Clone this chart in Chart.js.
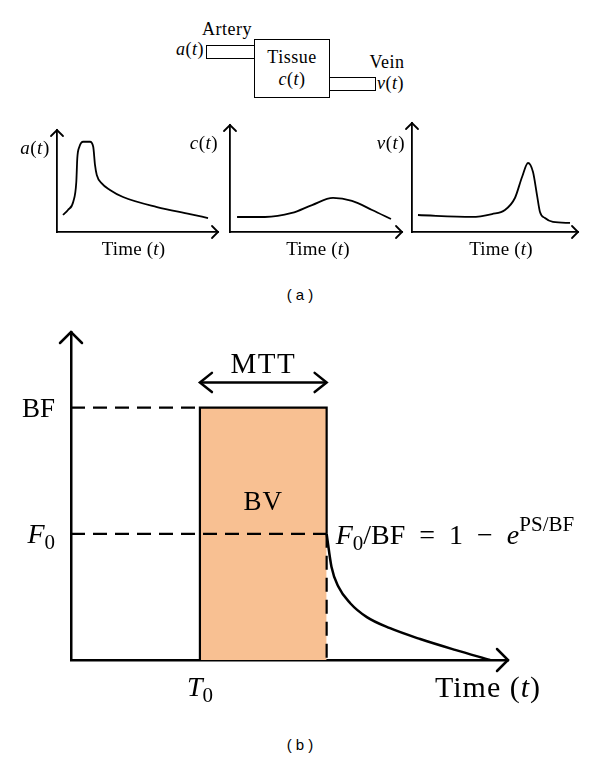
<!DOCTYPE html>
<html lang="en">
<head>
<meta charset="UTF-8">
<title>Tracer kinetics model</title>
<script src="https://cdn.jsdelivr.net/npm/chart.js"></script>
<style>
    body {
        margin: 0;
        width: 600px;
        height: 762px;
        position: relative;
        background: #fff;
        overflow: hidden;
        font-family: 'Liberation Serif', serif;
    }
    canvas { position: absolute; }
    .box {
        position: absolute;
        border: 1.5px solid #000;
        box-sizing: border-box;
        background: #fff;
    }
    .txt {
        position: absolute;
        font-size: 18px;
        letter-spacing: 0.5px;
        line-height: 1;
        white-space: nowrap;
    }
    .cap {
        position: absolute;
        left: 0;
        width: 600px;
        text-align: center;
        font-family: 'Liberation Sans', sans-serif;
        font-size: 15px;
        line-height: 1;
    }
</style>
</head>
<body>
    <!-- compartment sketch -->
    <div class="box" style="left:206px;top:45px;width:49px;height:14px"></div>
    <div class="box" style="left:329px;top:77px;width:47px;height:14px"></div>
    <div class="box" style="left:254px;top:39px;width:76px;height:59px"></div>
    <div class="txt" style="left:202px;top:20px">Artery</div>
    <div class="txt" style="left:156px;top:40px;width:48px;text-align:right"><i>a</i>(<i>t</i>)</div>
    <div class="txt" style="left:254px;top:48px;width:76px;text-align:center">Tissue</div>
    <div class="txt" style="left:254px;top:70px;width:76px;text-align:center"><i>c</i>(<i>t</i>)</div>
    <div class="txt" style="left:365px;top:53px;width:44px;text-align:center">Vein</div>
    <div class="txt" style="left:377px;top:74px"><i>v</i>(<i>t</i>)</div>

    <canvas id="artChart" width="215" height="150" style="left:10px;top:115px"></canvas>
    <canvas id="tisChart" width="225" height="150" style="left:180px;top:115px"></canvas>
    <canvas id="veinChart" width="230" height="150" style="left:370px;top:115px"></canvas>
    <div class="cap" style="top:287px">( a )</div>

    <canvas id="modelChart" width="600" height="400" style="left:0;top:320px"></canvas>
    <div class="cap" style="top:737px">( b )</div>

<script>
    // (a) concentration curves, arbitrary units on a 0..10 grid
    const artX  = [0.37, 0.68, 1.01, 1.20, 1.26, 1.39, 1.63, 2.05, 2.25, 2.36, 2.47, 2.78, 3.29, 4.10, 6.21, 8.26, 9.38];
    const artY  = [1.67, 2.16, 2.97, 4.93, 7.23, 8.36, 8.85, 8.85, 8.36, 6.57, 5.59, 4.77, 4.12, 3.43, 2.45, 1.76, 1.37];
    const tisX  = [0.41, 2.03, 3.60, 4.77, 5.99, 7.09, 8.26, 9.36];
    const tisY  = [1.40, 1.40, 1.78, 2.52, 3.18, 2.90, 2.06, 1.21];
    const veinX = [0.36, 3.61, 4.82, 5.60, 6.20, 6.63, 6.99, 7.29, 7.53, 7.71, 8.01, 8.49, 9.52];
    const veinY = [1.56, 1.38, 1.65, 2.02, 3.12, 5.05, 6.33, 5.50, 3.39, 1.83, 1.28, 0.92, 0.83];

    // (b) model values
    const T0 = 2.95, T1 = 5.85;       // bolus start / end (T1 - T0 = MTT)
    const BF = 1.0, F0 = 0.5;
    const mttLevel = 1.10;
    const boxX = [T0, T0, T1, T1];
    const boxY = [0, BF, BF, F0];
    const decayX = [5.85, 5.96, 6.12, 6.39, 6.77, 7.30, 7.99, 8.79, 9.59];
    const decayY = [0.50, 0.37, 0.29, 0.225, 0.17, 0.126, 0.083, 0.04, 0.0];

    const SERIF = "'Liberation Serif', 'DejaVu Serif', serif";
    const orange = 'rgb(248, 192, 146)';

    const pts = (xs, ys) => xs.map((x, i) => ({ x: x, y: ys[i] }));

    function drawRich(ctx, parts, x, y, size, align, ls) {
        const small = p => p[1] && (p[1].includes('sub') || p[1].includes('sup'));
        const fontOf = p => (p[1] && p[1].includes('i') ? 'italic ' : '') +
            Math.round(small(p) ? size * 0.74 : size) + 'px ' + SERIF;
        ctx.letterSpacing = (ls || 0) + 'px';
        let w = 0;
        parts.forEach(p => { ctx.font = fontOf(p); w += ctx.measureText(p[0]).width; });
        let cx = align === 'center' ? x - w / 2 : align === 'right' ? x - w : x;
        ctx.textAlign = 'left';
        ctx.textBaseline = 'alphabetic';
        ctx.fillStyle = '#000';
        const base = y + size * 0.33;
        parts.forEach(p => {
            ctx.font = fontOf(p);
            let off = 0;
            if (p[1] && p[1].includes('sub')) off = size * 0.22;
            if (p[1] && p[1].includes('sup')) off = -size * 0.45;
            ctx.fillText(p[0], cx, base + off);
            cx += ctx.measureText(p[0]).width;
        });
        ctx.letterSpacing = '0px';
    }

    function chevron(ctx, x, y, dx, dy, len, half) {
        // open arrow head pointing along (dx, dy)
        const px = -dy, py = dx;
        ctx.beginPath();
        ctx.moveTo(x - dx * len + px * half, y - dy * len + py * half);
        ctx.lineTo(x, y);
        ctx.lineTo(x - dx * len - px * half, y - dy * len - py * half);
        ctx.stroke();
    }

    const annot = {
        id: 'annot',
        afterDraw(chart, args, opts) {
            const ctx = chart.ctx, a = chart.chartArea;
            const xs = chart.scales.x, ys = chart.scales.y;
            ctx.save();
            ctx.strokeStyle = '#000';
            ctx.lineWidth = opts.lw;
            ctx.lineCap = 'round';
            ctx.lineJoin = 'miter';
            chevron(ctx, a.left, a.top, 0, -1, opts.arrow, opts.arrow);
            chevron(ctx, a.right, a.bottom, 1, 0, opts.arrow, opts.arrow);
            (opts.doubleArrows || []).forEach(d => {
                const y = ys.getPixelForValue(d.y);
                chevron(ctx, xs.getPixelForValue(d.x0), y, -1, 0, d.len, d.len * 0.8);
                chevron(ctx, xs.getPixelForValue(d.x1), y, 1, 0, d.len, d.len * 0.8);
            });
            (opts.texts || []).forEach(t => {
                drawRich(ctx, t.parts,
                    xs.getPixelForValue(t.x) + (t.dx || 0),
                    ys.getPixelForValue(t.y) + (t.dy || 0),
                    t.size, t.align || 'center', t.ls);
            });
            ctx.restore();
        }
    };

    function axis(max, w) {
        return {
            type: 'linear', min: 0, max: max,
            grid: { display: false, drawTicks: false },
            ticks: { display: false },
            border: { color: '#000', width: w }
        };
    }

    function smallChart(id, xs, ys, yName, pad, yLab, timeDx) {
        return new Chart(document.getElementById(id), {
            type: 'line',
            data: {
                datasets: [{
                    data: pts(xs, ys),
                    borderColor: '#000',
                    borderWidth: 1.8,
                    pointRadius: 0,
                    cubicInterpolationMode: 'monotone',
                    fill: false
                }]
            },
            options: {
                responsive: false,
                animation: false,
                layout: { padding: pad },
                scales: { x: axis(10, 1.8), y: axis(10, 1.8) },
                plugins: {
                    legend: { display: false },
                    tooltip: { enabled: false },
                    annot: {
                        lw: 1.8, arrow: 6,
                        texts: [
                            { parts: [[yName, 'i'], ['('], ['t', 'i'], [')']], x: 0, y: 10, dx: yLab[0], dy: yLab[1], size: 19, ls: 0.5 },
                            { parts: [['Time ('], ['t', 'i'], [')']], x: 5, y: 0, dx: timeDx, dy: 17, size: 19, ls: 0.2 }
                        ]
                    }
                }
            },
            plugins: [annot]
        });
    }

    smallChart('artChart', artX, artY, 'a', { left: 47, right: 7, top: 15, bottom: 33 }, [-22, 18], -4);
    smallChart('tisChart', tisX, tisY, 'c', { left: 50, right: 3, top: 10, bottom: 33 }, [-26, 18], 2);
    smallChart('veinChart', veinX, veinY, 'v', { left: 42, right: 22, top: 8, bottom: 33 }, [-21, 20], 6);

    const dash = [14, 8];
    const line = (data, extra) => Object.assign({
        data: data, borderColor: '#000', borderWidth: 2.2, pointRadius: 0, fill: false, tension: 0
    }, extra || {});

    new Chart(document.getElementById('modelChart'), {
        type: 'line',
        data: {
            datasets: [
                // drawn first (highest order) so the dashed lines sit on top of the fill
                line(pts(boxX, boxY), { fill: 'origin', backgroundColor: orange, borderJoinStyle: 'miter', order: 10 }),
                line(pts([0, T0], [BF, BF]), { borderDash: dash }),
                line(pts([0, T1], [F0, F0]), { borderDash: dash }),
                line(pts([T1, T1], [F0, 0]), { borderDash: dash }),
                line(pts(decayX, decayY), { cubicInterpolationMode: 'monotone', borderWidth: 2.5 }),
                line(pts([T0, T1], [mttLevel, mttLevel]), { borderWidth: 2.5 })
            ]
        },
        options: {
            responsive: false,
            animation: false,
            layout: { padding: { left: 71, right: 92, top: 12, bottom: 60 } },
            scales: { x: axis(10, 2.5), y: axis(1.3, 2.5) },
            plugins: {
                legend: { display: false },
                tooltip: { enabled: false },
                annot: {
                    lw: 2.5, arrow: 11,
                    doubleArrows: [{ x0: T0, x1: T1, y: mttLevel, len: 12 }],
                    texts: [
                        { parts: [['BF']], x: 0, y: BF, dx: -16, size: 27, align: 'right' },
                        { parts: [['F', 'i'], ['0', 'sub']], x: 0, y: F0, dx: -16, size: 28, align: 'right' },
                        { parts: [['T', 'i'], ['0', 'sub']], x: T0, y: 0, dy: 27, size: 28 },
                        { parts: [['Time ('], ['t', 'i'], [')']], x: 10, y: 0, dx: -20, dy: 27, size: 30, ls: 1 },
                        { parts: [['MTT']], x: (T0 + T1) / 2, y: mttLevel, dy: -19, size: 29, ls: 1.5 },
                        { parts: [['BV']], x: (T0 + T1) / 2, y: F0, dy: -33, size: 27, ls: 1 },
                        { parts: [['F', 'i'], ['0', 'sub'], ['/BF\u2002=\u20021\u2002\u2212\u2002'], ['e', 'i'], ['PS/BF', 'sup']],
                          x: T1, y: F0, dx: 9, dy: 1, size: 28, align: 'left' }
                    ]
                }
            }
        },
        plugins: [annot]
    });
</script>
</body>
</html>
